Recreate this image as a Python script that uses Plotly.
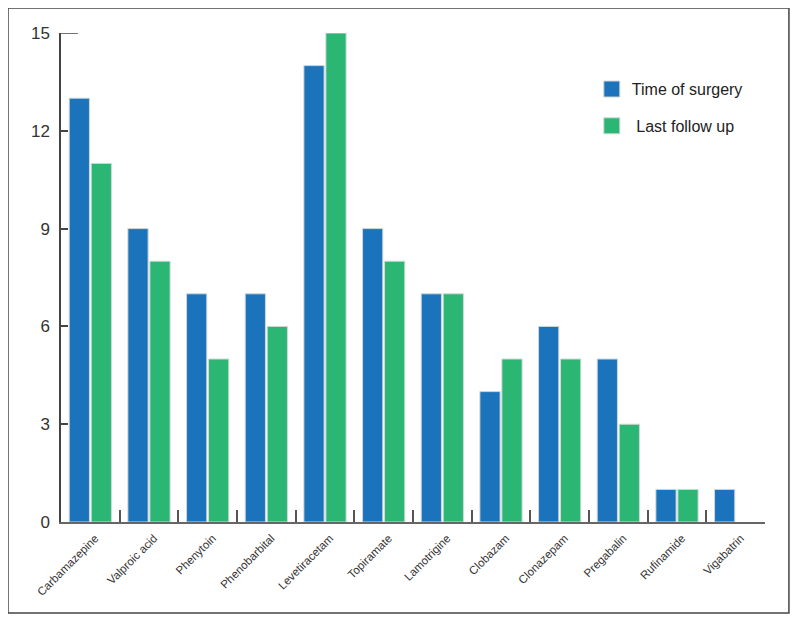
import plotly.graph_objects as go

drugs = ["Carbamazepine", "Valproic acid", "Phenytoin", "Phenobarbital", "Levetiracetam",
         "Topiramate", "Lamotrigine", "Clobazam", "Clonazepam", "Pregabalin",
         "Rufinamide", "Vigabatrin"]
time_of_surgery = [13, 9, 7, 7, 14, 9, 7, 4, 6, 5, 1, 1]
last_follow_up = [11, 8, 5, 6, 15, 8, 7, 5, 5, 3, 1, None]
y_ticks = [0, 3, 6, 9, 12, 15]

BLUE = "#1a73bb"
GREEN = "#2bb673"
FONT = "Liberation Sans, Arial, sans-serif"

fig = go.Figure()
fig.add_trace(go.Bar(x=drugs, y=time_of_surgery, name="Time of surgery",
                     marker=dict(color=BLUE, line=dict(color="#d0d8d8", width=1)),
                     showlegend=False))
fig.add_trace(go.Bar(x=drugs, y=last_follow_up, name="Last follow up",
                     marker=dict(color=GREEN, line=dict(color="#d0d8d8", width=1)),
                     showlegend=False))
# legend entries
fig.add_trace(go.Scatter(x=[None], y=[None], mode="markers", name="Time of surgery",
                         legendgroup="a",
                         marker=dict(symbol="square", size=20, color=BLUE,
                                     line=dict(color="#d0d8d8", width=1))))
fig.add_trace(go.Scatter(x=[None], y=[None], mode="markers", name=" Last follow up",
                         legendgroup="b",
                         marker=dict(symbol="square", size=20, color=GREEN,
                                     line=dict(color="#d0d8d8", width=1))))

fig.update_layout(
    width=782, height=606,
    margin=dict(l=53, r=25, t=25, b=92),
    paper_bgcolor="white", plot_bgcolor="white",
    barmode="group", bargap=0.25, bargroupgap=0.08,
    font=dict(family=FONT, color="#333333"),
    legend=dict(x=0.754, y=0.92, xanchor="left", yanchor="top",
                font=dict(size=16, color="#222222"), tracegroupgap=13,
                bgcolor="rgba(0,0,0,0)"),
    xaxis=dict(type="category", tickangle=-45, tickson="boundaries",
               ticks="inside", ticklen=12, tickcolor="#555555", tickwidth=1.5,
               showline=True, linecolor="#666666", linewidth=2,
               showgrid=False, tickfont=dict(size=11.5, color="#333333"),
               ticklabelshift=5, ticklabelstandoff=3,
               range=[-0.5, 11.5]),
    yaxis=dict(range=[0, 15], tickvals=y_ticks, ticks="inside", ticklen=7,
               tickcolor="#444444", tickwidth=1.5,
               showline=True, linecolor="#444444", linewidth=1.5,
               showgrid=False, zeroline=False, tickfont=dict(size=17, color="#333333"),
               ticklabelstandoff=6),
    shapes=[
        dict(type="rect", xref="paper", yref="paper", x0=-0.0753, x1=1.034,
             y0=-0.186, y1=1.051, line=dict(color="#444444", width=1.5)),
        dict(type="line", xref="paper", yref="y", x0=0, x1=0.024, y0=15, y1=15,
             line=dict(color="#444444", width=1.5)),
    ],
)

fig.write_html("out.html")
